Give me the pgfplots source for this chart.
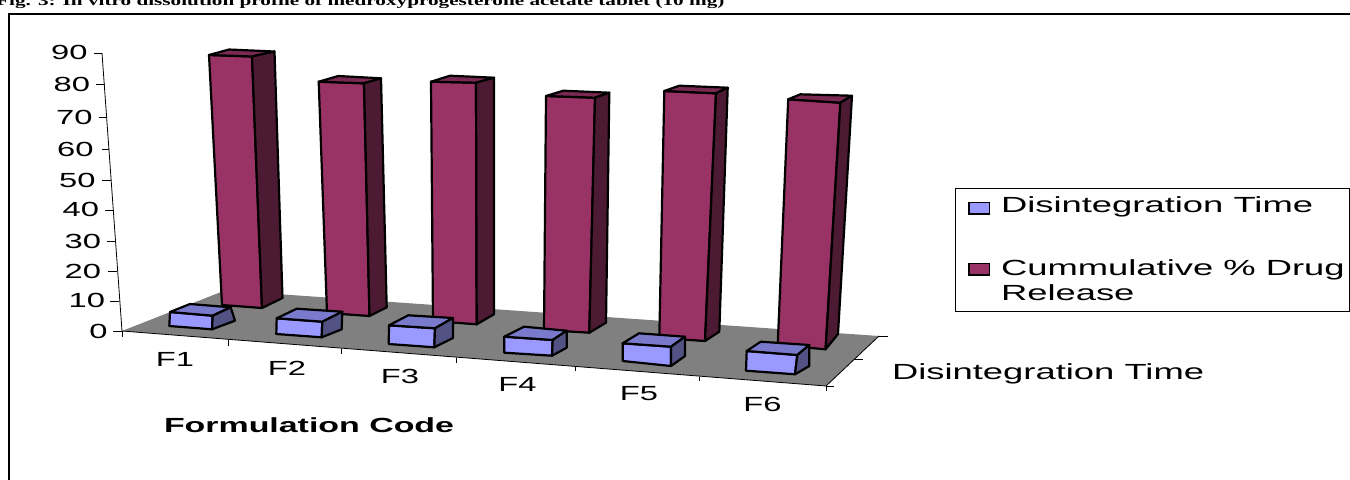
\documentclass[border=0pt]{standalone}
\usepackage{pgfplots}
\pgfplotsset{compat=1.18}
\usepackage{fontspec}
\setmainfont{Liberation Sans}
\newfontfamily\chartfont[FakeStretch=1.6]{Liberation Sans}
\newfontfamily\widefont[FakeStretch=1.66]{Liberation Sans}
\newfontfamily\capfont[FakeStretch=1.52]{Liberation Serif}
\definecolor{relfront}{HTML}{993366}
\definecolor{reltop}{HTML}{7A2952}
\definecolor{relside}{HTML}{4D1A33}
\definecolor{disfront}{HTML}{9999FF}
\definecolor{distop}{HTML}{7A7ACC}
\definecolor{disside}{HTML}{525285}
\definecolor{floorgrey}{HTML}{808080}
\tikzset{
  face/.style={draw=black,line width=2.2bp,line join=round},
  rule/.style={draw=black,line width=0.8bp},
  lab/.style={inner sep=0pt,outer sep=0pt,font=\fontsize{20.5}{22}\chartfont,text=black},
  wide/.style={inner sep=0pt,outer sep=0pt,anchor=base west,font=\fontsize{22}{24}\widefont,text=black}
}
% Each column is three faces: front, top, side
\newcommand{\column}[5]{%
  \addplot[face,fill=#1front] coordinates {#3} -- cycle;
  \addplot[face,fill=#1top] coordinates {#4} -- cycle;
  \addplot[face,fill=#1side] coordinates {#5} -- cycle;
}
\begin{document}
\begin{tikzpicture}
\path[use as bounding box,clip] (0,0) rectangle (1350bp,480bp);
\begin{axis}[
  at={(0,0)},anchor=south west,scale only axis,
  width=1350bp,height=480bp,
  xmin=0,xmax=1350,ymin=0,ymax=480,y dir=reverse,
  hide axis,clip=false
]
% caption above the frame
\node[anchor=base west,inner sep=0pt,font=\fontsize{14}{15}\capfont\bfseries] at (axis cs:-4,5)
  {Fig. 3: In vitro dissolution profile of medroxyprogesterone acetate tablet (10 mg)};
% outer frame
\addplot[draw=black,line width=2.6bp] coordinates {(9,490) (9,14) (1360,14)};

% floor
\addplot[fill=floorgrey,draw=none] coordinates {(122,331) (225,290.4) (879,336) (826,386)} -- cycle;
\addplot[rule] coordinates {(122,331) (826,386)};

% value axis
\addplot[rule] coordinates {(122,331) (102,53)};
\addplot[rule] coordinates {(94,53) (102,53)};
\addplot[rule] coordinates {(96,84) (104.5,84)};
\addplot[rule] coordinates {(99,117) (107,117)};
\addplot[rule] coordinates {(101.5,149) (109,149)};
\addplot[rule] coordinates {(102,180) (111,180)};
\addplot[rule] coordinates {(105,210) (113.5,210)};
\addplot[rule] coordinates {(107,241) (115.5,241)};
\addplot[rule] coordinates {(108,271) (116.5,271)};
\addplot[rule] coordinates {(110,301) (119,301)};
\addplot[rule] coordinates {(113,331) (122,331)};
\foreach \v/\xr/\yc in {90/87.5/52,80/90/84,70/92.5/117,60/93.5/149,50/95.5/180,40/99/209.5,30/101/241.5,20/101/271,10/105/300.5,0/107.5/331}{
  \edef\tmp{\noexpand\node[lab,anchor=east] at (axis cs:\xr,\yc) {\v};}\tmp
}

% category axis ticks
\addplot[rule] coordinates {(122,331) (122,337)};
\addplot[rule] coordinates {(228.7,340) (228.7,345.5)};
\addplot[rule] coordinates {(341.3,348.5) (341.3,353.5)};
\addplot[rule] coordinates {(456.7,358) (456.7,363)};
\addplot[rule] coordinates {(575,367) (575,371)};
\addplot[rule] coordinates {(699,376.5) (699,381)};
\addplot[rule] coordinates {(826,386) (826,391)};
% depth axis edge and ticks
\addplot[rule] coordinates {(826,386) (879,336)};
\addplot[rule] coordinates {(879,336) (888,336)};
\addplot[rule] coordinates {(854,359.5) (862.5,359.5)};
\addplot[rule] coordinates {(826,386) (834,386)};

% Cumulative drug release columns
\column{rel}{F1}{(209,55) (252,56.5) (262,308) (222,305)}{(209,55) (229,49.5) (274.5,51.5) (252,56.5)}{(252,56.5) (274.5,51.5) (282.5,298) (262,308)}
\column{rel}{F2}{(318.7,81.7) (364,83.3) (369.5,316) (327,313)}{(318.7,81.7) (338.3,76) (381,78.3) (364,83.3)}{(364,83.3) (381,78.3) (386.7,307.3) (369.5,316)}
\column{rel}{F3}{(431,81.7) (476,82.7) (476.7,324.3) (433,321)}{(431,81.7) (450,75.7) (494,77.7) (476,82.7)}{(476,82.7) (494,77.7) (494,314.3) (476.7,324.3)}
\column{rel}{F4}{(546,96) (595,97.7) (589.3,332.7) (544,330)}{(546,96) (563.3,90.7) (609.3,92.7) (595,97.7)}{(595,97.7) (609.3,92.7) (606,322.7) (589.3,332.7)}
\column{rel}{F5}{(664.3,91) (716,93.3) (705,341) (659.3,338)}{(664.3,91) (679.3,85.7) (727.7,87.7) (716,93.3)}{(716,93.3) (727.7,87.7) (719.3,331.7) (705,341)}
\column{rel}{F6}{(788.2,99.3) (840.4,102.7) (825.6,349.3) (777.7,345)}{(788.2,99.3) (800.3,94.3) (852,95.7) (840.4,102.7)}{(840.4,102.7) (852,95.7) (838,334) (825.6,349.3)}

% Disintegration time columns
\column{dis}{F1}{(170,312) (212.7,315.7) (212,329.3) (169.3,326)}{(170,312) (190,304) (230.7,307.3) (212.7,315.7)}{(212.7,315.7) (230.7,307.3) (235,320.7) (212,329.3)}
\column{dis}{F2}{(276.7,318.3) (322.3,321.7) (321.7,337.3) (276.3,334)}{(276.7,318.3) (296.7,308.7) (342.3,311.7) (322.3,321.7)}{(322.3,321.7) (342.3,311.7) (341.7,329.3) (321.7,337.3)}
\column{dis}{F3}{(389,325.3) (435,328.3) (434.3,347.3) (388.7,344)}{(389,325.3) (408.3,315.3) (453,318) (435,328.3)}{(435,328.3) (453,318) (453,338) (434.3,347.3)}
\column{dis}{F4}{(504.3,336.7) (552.7,340) (552,355.7) (504.3,352.7)}{(504.3,336.7) (524,326.7) (566.7,330.7) (552.7,340)}{(552.7,340) (566.7,330.7) (566.7,347.7) (552,355.7)}
\column{dis}{F5}{(622.7,343.3) (671,346.7) (671,366) (622.7,361)}{(622.7,343.3) (639,333.3) (685,336.7) (671,346.7)}{(671,346.7) (685,336.7) (685,356) (671,366)}
\column{dis}{F6}{(746.7,351) (797.3,355) (795,374.3) (746,370.7)}{(746.7,351) (760.7,341.7) (809.3,345) (797.3,355)}{(797.3,355) (809.3,345) (809.3,366) (795,374.3)}

% category labels and axis titles
\node[lab] at (axis cs:175,359) {F1};
\node[lab] at (axis cs:287,368) {F2};
\node[lab] at (axis cs:400,376.5) {F3};
\node[lab] at (axis cs:517.5,384) {F4};
\node[lab] at (axis cs:639,394) {F5};
\node[lab] at (axis cs:762.5,404) {F6};
\node[wide,font=\fontsize{20.5}{22}\widefont\bfseries] at (axis cs:164,432.3) {Formulation Code};
\node[wide] at (axis cs:892,379) {Disintegration Time};

% legend
\addplot[draw=black,line width=1bp,fill=white] coordinates {(955,188.5) (1349.5,188.5) (1349.5,311.5) (955,311.5)} -- cycle;
\addplot[draw=black,line width=1.6bp,fill=disfront] coordinates {(969,202.5) (989.5,202.5) (989.5,214) (969,214)} -- cycle;
\addplot[draw=black,line width=1.6bp,fill=relfront] coordinates {(969,263.5) (989.5,263.5) (989.5,275) (969,275)} -- cycle;
\node[wide] at (axis cs:1001,212.7) {Disintegration Time};
\node[wide] at (axis cs:1001,275) {Cummulative \% Drug};
\node[wide] at (axis cs:1001,300.7) {Release};
\end{axis}
\end{tikzpicture}
\end{document}
